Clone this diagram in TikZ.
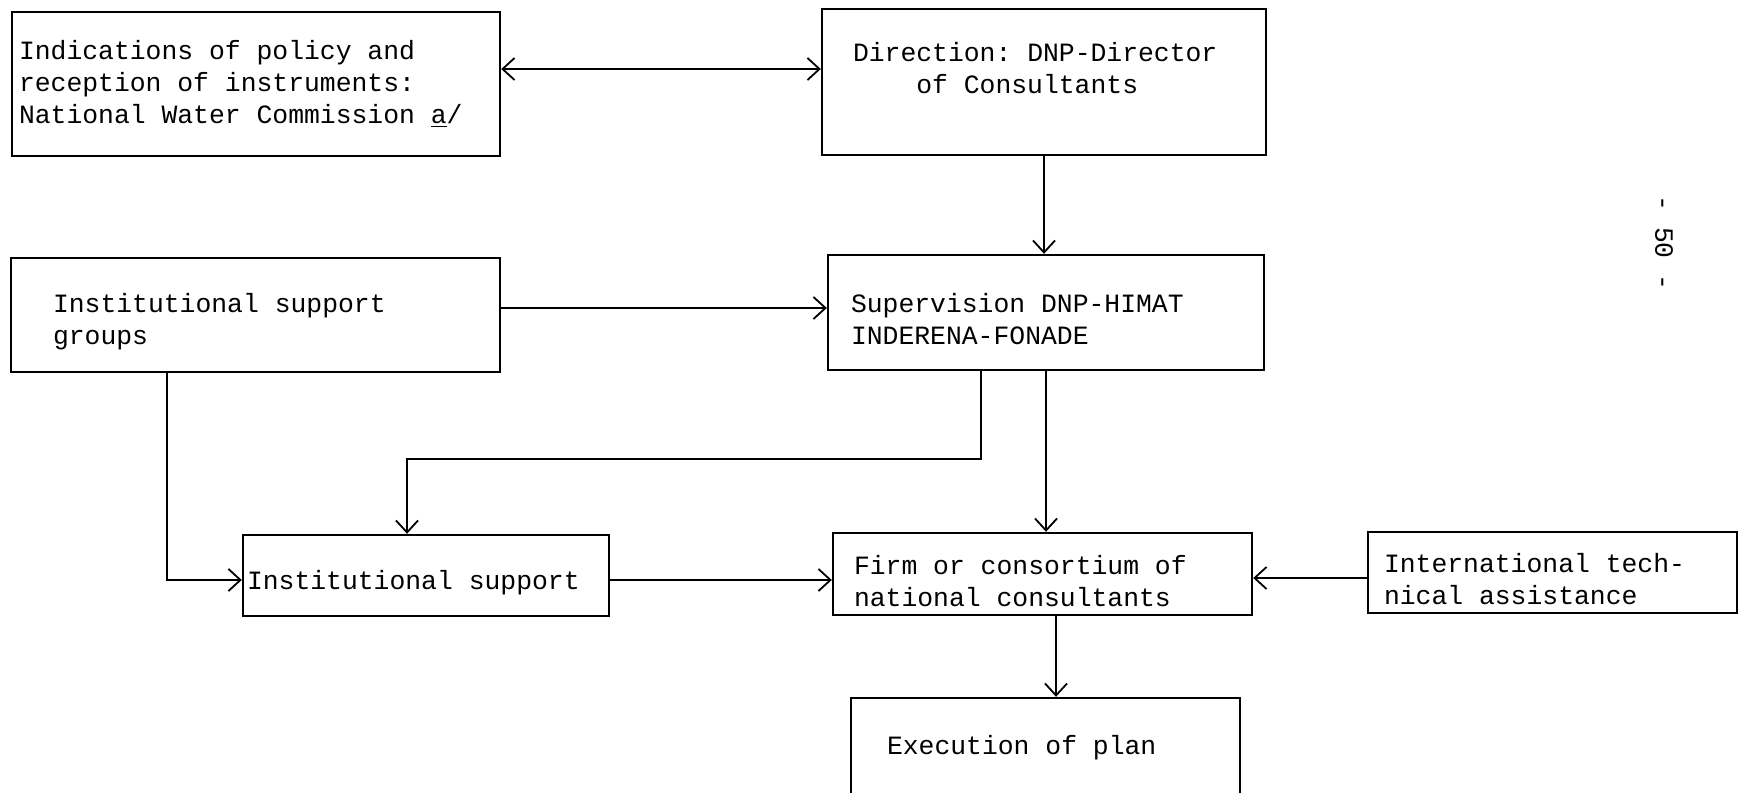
\documentclass[tikz,border=0pt]{standalone}
\usepackage{fontspec}
\setmonofont{Liberation Mono}
\usetikzlibrary{arrows.meta}
\protected\def\typedspace{\spaceskip=0.6em\relax\xspaceskip=0.6em\relax}

\begin{document}
\begin{tikzpicture}[x=0.5pt,y=-0.5pt,
  >={Straight Barb[length=6pt,width=11pt]},
  typed/.style={font=\ttfamily\fontsize{13.2}{16}\selectfont},
  box/.style={typed,draw,line width=1.2pt,rectangle,align=left,inner ysep=0pt,
    execute at begin node={\typedspace}},
  droptext/.style={execute at begin node={\typedspace\rule{0pt}{16.5pt}}},
  link/.style={line width=0.9pt}]
\useasboundingbox (0,0) rectangle (1739,792);
\clip (0,0) rectangle (1739,792);
\node[box,minimum width=244pt,minimum height=72pt,text width=237pt,inner xsep=3.5pt] (policy) at (256,84)
  {Indications of policy and\\reception of instruments:\\National Water Commission \underline{a}/};
\node[box,droptext,minimum width=222pt,minimum height=73pt,text width=191pt,inner xsep=15.5pt] (direction) at (1044,82)
  {Direction: DNP-Director\\\hspace*{2.4em}of Consultants\\\strut};
\node[box,droptext,minimum width=244.5pt,minimum height=57pt,text width=202.5pt,inner xsep=21pt] (groups) at (255.5,315)
  {Institutional support\\groups};
\node[box,droptext,minimum width=218pt,minimum height=57.5pt,text width=195pt,inner xsep=11.5pt] (supervision) at (1046,312.5)
  {Supervision DNP-HIMAT\\INDERENA-FONADE};
\node[box,droptext,minimum width=183pt,minimum height=40.5pt,text width=179pt,inner xsep=2pt] (support) at (426,575.5)
  {Institutional support};
\node[box,droptext,minimum width=209.5pt,minimum height=41pt,text width=188.5pt,inner xsep=10.5pt] (firm) at (1042.5,574)
  {Firm or consortium of\\national consultants};
\node[box,droptext,minimum width=184.5pt,minimum height=40.5pt,text width=168.5pt,inner xsep=8pt] (intl) at (1552.5,572.5)
  {International tech-\\nical assistance};
\node[box,minimum width=194.5pt,minimum height=50pt,text width=158.5pt,inner xsep=18pt] (execution) at (1045.5,748)
  {Execution of plan};
\node[typed,rotate=-90,execute at begin node={\typedspace}] (pagenum) at (1664,243) {- 50 -};
\coordinate (dturn) at (407,459);
\draw[link,<->] ([yshift=7.5pt]policy.east) -- ([yshift=7.5pt]policy.east -| direction.west);
\draw[link,->] (direction.south) -- (direction.south |- supervision.north);
\draw[link,->] ([yshift=3.5pt]groups.east) -- ([yshift=3.5pt]groups.east -| supervision.west);
\draw[link,->] (supervision.south) -- (supervision.south |- firm.north);
\draw[link,->] ([xshift=-32.5pt]supervision.south) |- (dturn) -- (dturn |- support.north);
\draw[link,->] ([xshift=-44.25pt]groups.south) |- ([yshift=-2.25pt]support.west);
\draw[link,->] ([yshift=-2.25pt]support.east) -- ([yshift=-2.25pt]support.east -| firm.west);
\draw[link,->] ([yshift=-2.75pt]intl.west) -- ([yshift=-2.75pt]intl.west -| firm.east);
\draw[link,->] ([xshift=6.75pt]firm.south) -- ([xshift=6.75pt]firm.south |- execution.north);
\end{tikzpicture}
\end{document}
